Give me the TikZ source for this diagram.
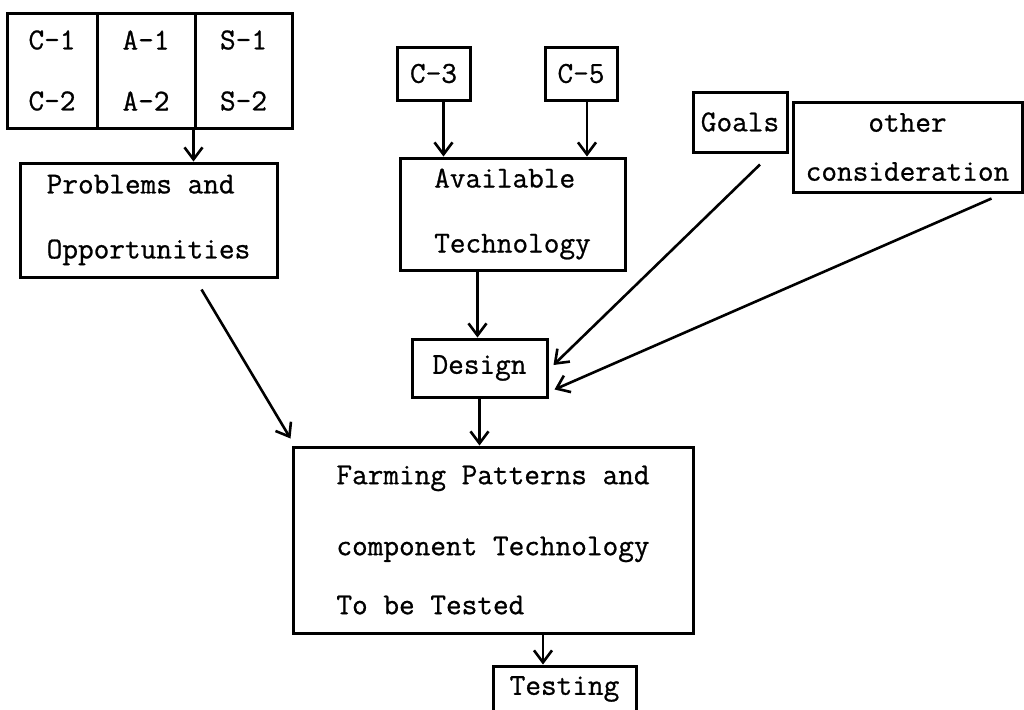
\documentclass[tikz,border=0pt]{standalone}
\usepackage{fontspec}
\setmonofont[FakeBold=0.8]{Latin Modern Mono}
\usetikzlibrary{arrows.meta,calc}
\begin{document}
\begin{tikzpicture}[x=0.5pt,y=-0.5pt,
  box/.style={draw,line width=1.5pt,rectangle,inner sep=0pt,
    font=\ttfamily\fontsize{15.2pt}{32.5pt}\selectfont},
  arr/.style={line width=1.3pt,-{Straight Barb[length=6pt,width=9pt,line width=1.3pt]}}]
\useasboundingbox (0,0) rectangle (1024,709);
% top group
\node[box,minimum width=45pt,minimum height=57.5pt,align=center] (c12) at (52,70.5) {C-1\\[-2pt]C-2};
\node[box,minimum width=49pt,minimum height=57.5pt,align=center] (a12) at (146,70.5) {A-1\\[-2pt]A-2};
\node[box,minimum width=48.5pt,minimum height=57.5pt,align=center] (s12) at (243.5,70.5) {S-1\\[-2pt]S-2};
\node[box,minimum width=128.5pt,minimum height=57pt,align=left] (prob) at (148.5,220) {Problems and\\Opportunities};
% technology
\node[box,minimum width=36.5pt,minimum height=26.5pt] (c3) at (433.5,73.5) {C-3};
\node[box,minimum width=36pt,minimum height=26.5pt] (c5) at (581,73.5) {C-5};
\node[box,minimum width=112.5pt,minimum height=56pt,align=left] (avail) at (512.5,214) {Available\\Technology};
% goals and other
\node[box,minimum width=47pt,minimum height=30pt] (goals) at (740,122) {Goals};
\node[box,minimum width=114.5pt,minimum height=45pt,align=center,
  font=\ttfamily\fontsize{15.2pt}{24.5pt}\selectfont] (other) at (907.5,147) {other\\consideration};
% design, farming, testing
\node[box,minimum width=67.5pt,minimum height=29pt] (design) at (479.5,368) {Design};
\node[box,minimum width=200pt,minimum height=93pt,align=left] (farm) at (493,540)
  {Farming Patterns and\\[3pt]component Technology\\[-3pt]To be Tested};
\node[box,minimum width=71.5pt,minimum height=23pt] (test) at (564.5,689) {Testing};
% connectors
\draw[arr] (s12.south west) -- (s12.south west |- prob.north);
\draw[arr] ([xshift=5pt]c3.south) -- ([xshift=5pt]c3.south |- avail.north);
\draw[arr] ([xshift=3pt]c5.south) -- ([xshift=3pt]c5.south |- avail.north);
\draw[arr] ([xshift=-1pt]design.north |- avail.south) -- ([xshift=-1pt]design.north);
\draw[arr] (design.south) -- (design.south |- farm.north);
\draw[arr] ([xshift=-10.75pt]test.north |- farm.south) -- ([xshift=-10.75pt]test.north);
\draw[arr] ($(prob.south east)+(-77,11)$) -- ($(farm.north west)+(-1,-7)$);
\draw[arr] ($(goals.south)+(20,11)$) -- ($(design.east)+(5,-3)$);
\draw[arr] ($(other.south east)+(-32,5)$) -- ($(design.south east)+(6,-9)$);
\end{tikzpicture}
\end{document}
